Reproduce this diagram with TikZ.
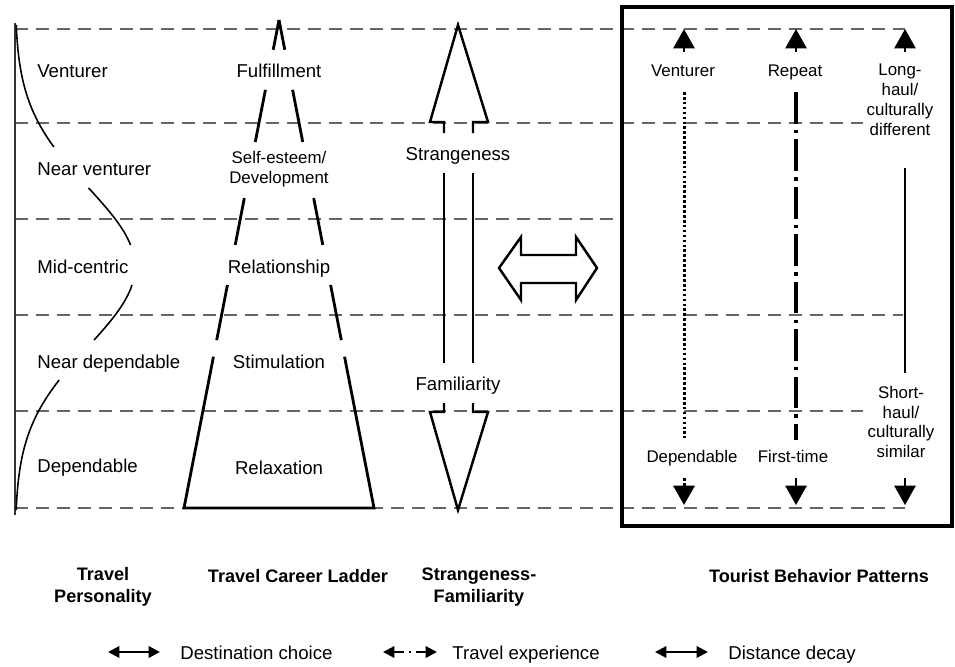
\documentclass[tikz,border=0pt]{standalone}
\usepackage{fontspec}
\setmainfont{Liberation Sans}
\usetikzlibrary{arrows.meta,calc}

\tikzset{
  level/.style={line width=0.9pt, black!60, dash pattern=on 7.4pt off 4.5pt},
  lbl/.style={font=\fontsize{10.6}{12.5}\selectfont, inner sep=0pt},
  boxlbl/.style={font=\fontsize{9.6}{11.3}\selectfont, inner sep=0pt, align=center},
  title/.style={font=\bfseries\fontsize{10.3}{12.5}\selectfont, inner sep=0pt, align=center},
  curve/.style={line width=0.9pt},
  ladder/.style={line width=1.6pt},
  hollow/.style={line width=1.4pt, line join=miter},
  tip/.style={line width=1.3pt, -{Triangle[width=12pt,length=11pt]}},
  legtip/.style={line width=1.3pt, {Triangle[width=6.5pt,length=6.5pt]}-{Triangle[width=6.5pt,length=6.5pt]}},
  dotline/.style={line width=1.7pt, dash pattern=on 1.5pt off 1.3pt},
  dashdot/.style={line width=1.8pt, dash pattern=on 18pt off 3.5pt on 2pt off 3.5pt}
}

\begin{document}
\begin{tikzpicture}[x=0.02cm, y=-0.02cm]
% page size of the reference
\useasboundingbox (0,0) rectangle (955,666);

% define level lines
\foreach \y/\e in {29/905, 123/863, 219/622, 315/903, 411/863, 508/905}
  \draw[level] (15,\y) -- (\e,\y);

% left axis
\draw[line width=1.4pt, black!80] (15,23) -- (15,515);

% personality curve
\foreach \a/\b in {25/147, 188/245, 285/340, 380/510}
  \draw[curve] plot[domain=\a:\b, samples=30, variable=\t]
    ({15+120*exp(-((\t-267)/113)*((\t-267)/113))}, \t);

% personality labels
\node[lbl, anchor=base west] (venturer) at (37,77) {Venturer};
\node[lbl, anchor=base west] (nearventurer) at (37,175) {Near venturer};
\node[lbl, anchor=base west] (midcentric) at (37,273) {Mid-centric};
\node[lbl, anchor=base west] (neardependable) at (37,368) {Near dependable};
\node[lbl, anchor=base west] (dependable) at (37,472) {Dependable};

% career ladder
\coordinate (apex) at (279,20);
\coordinate (bl) at (184,508);
\coordinate (br) at (374,508);
\draw[ladder] ($(bl)!0.31!(apex)$) -- (bl) -- (br) -- ($(br)!0.31!(apex)$);
\foreach \a/\b in {0.344/0.457, 0.539/0.635, 0.75/0.857, 0.939/1}{
  \draw[ladder] ($(bl)!\a!(apex)$) -- ($(bl)!\b!(apex)$);
  \draw[ladder] ($(br)!\a!(apex)$) -- ($(br)!\b!(apex)$);
}

% ladder labels
\node[lbl, anchor=base] (fulfillment) at (279,77) {Fulfillment};
\node[boxlbl] (selfesteem) at (279,169) {Self-esteem/\\Development};
\node[lbl, anchor=base] (relationship) at (279,273) {Relationship};
\node[lbl, anchor=base] (stimulation) at (279,368) {Stimulation};
\node[lbl, anchor=base] (relaxation) at (279,474) {Relaxation};

% strangeness and familiarity arrows
\draw[hollow] (444,133) -- (444,122) -- (430,122) -- (458,25) -- (488,122) -- (473,122) -- (473,133);
\draw[hollow] (444,173) -- (444,363);
\draw[hollow] (473,173) -- (473,363);
\draw[hollow] (444,403) -- (444,412) -- (430,412) -- (458,510) -- (488,412) -- (473,412) -- (473,403);
\node[lbl, anchor=base] (strangeness) at (458,160) {Strangeness};
\node[lbl, anchor=base] (familiarity) at (458,390) {Familiarity};

% link to behavior patterns
\draw[hollow] (499,268) -- (521,237) -- (521,255) -- (576,255) -- (576,237) -- (597,268)
  -- (576,300) -- (576,283) -- (521,283) -- (521,300) -- cycle;

% behavior box
\draw[line width=1.8pt] (622,7) rectangle (952,526);

% behavior labels
\node[boxlbl, anchor=base] (bventurer) at (683,76) {Venturer};
\node[boxlbl, anchor=base] (repeat) at (795,76) {Repeat};
\node[boxlbl] (longhaul) at (900,100) {Long-\\haul/\\culturally\\different};
\node[boxlbl, anchor=base] (bdependable) at (692,462) {Dependable};
\node[boxlbl, anchor=base] (firsttime) at (793,462) {First-time};
\node[boxlbl] (shorthaul) at (901,422) {Short-\\haul/\\culturally\\similar};

% behavior arrows
\foreach \x/\n in {684/v, 796/r, 905/d}{
  \coordinate (\n-top) at (\x,29);
  \coordinate (\n-topstem) at (\x,52);
  \coordinate (\n-bot) at (\x,505);
  \coordinate (\n-botstem) at (\x,478);
  \draw[tip] (\n-topstem) -- (\n-top);
}
\draw[tip, dotline] (v-botstem) -- (v-bot);
\draw[tip] (r-botstem) -- (r-bot);
\draw[tip] (d-botstem) -- (d-bot);
\draw[dotline] (684,92) -- (684,438);
\draw[dashdot] (796,92) -- (796,440);
\draw[line width=1.3pt] (905,168) -- (905,373);

% column titles
\node[title] (ttravel) at (103,587) {Travel\\Personality};
\node[title, anchor=base] (tladder) at (298,582) {Travel Career Ladder};
\node[title] (tstrange) at (479,587) {Strangeness-\\Familiarity};
\node[title, anchor=base] (tpatterns) at (819,582) {Tourist Behavior Patterns};

% legend
\coordinate (l1a) at (108,652); \coordinate (l1b) at (160,652);
\coordinate (l2a) at (383,652); \coordinate (l2b) at (437,652);
\coordinate (l3a) at (655,652); \coordinate (l3b) at (708,652);
\draw[legtip] (l1a) -- (l1b);
\draw[legtip, dash pattern=on 6pt off 2.5pt on 1.5pt off 2.5pt] (l2a) -- (l2b);
\draw[legtip] (l3a) -- (l3b);
\node[lbl, anchor=base west] (choice) at (180,659) {Destination choice};
\node[lbl, anchor=base west] (experience) at (452,659) {Travel experience};
\node[lbl, anchor=base west] (decay) at (728,659) {Distance decay};

\end{tikzpicture}
\end{document}
